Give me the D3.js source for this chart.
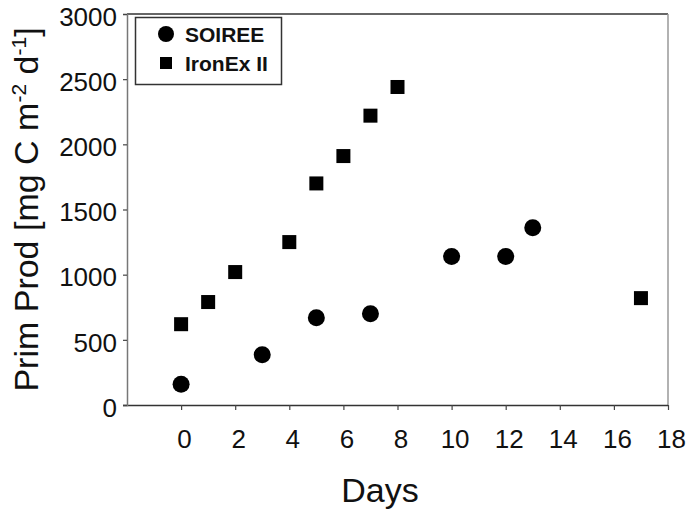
<!DOCTYPE html>
<html>
<head>
<meta charset="utf-8">
<script src="https://cdn.jsdelivr.net/npm/d3@7"></script>
<style>
  body { margin: 0; background: #fff; }
  text { font-family: "Liberation Sans", Arial, Helvetica, sans-serif; fill: #111; }
</style>
</head>
<body>
<svg id="chart"></svg>
<script>
// data
const soireeDays = [0, 3, 5, 7, 10, 12, 13];
const soireeProd = [160, 385, 670, 700, 1140, 1140, 1360];
const ironexDays = [0, 1, 2, 4, 5, 6, 7, 8, 17];
const ironexProd = [620, 790, 1020, 1250, 1700, 1910, 2220, 2440, 820];
const xTicks = [0, 2, 4, 6, 8, 10, 12, 14, 16, 18];
const yTicks = [0, 500, 1000, 1500, 2000, 2500, 3000];

const width = 689;
const height = 513;
const margin = { top: 14, right: 21, bottom: 108, left: 127 };

const svg = d3.select('#chart')
  .attr('width', width)
  .attr('height', height);

const xscale = d3.scaleLinear().domain([-2, 18]).range([margin.left, width - margin.right]);
const yscale = d3.scaleLinear().domain([0, 3000]).range([height - margin.bottom, margin.top]);

// frame (top and right)
svg.append('line')
  .attr('x1', margin.left).attr('x2', width - margin.right)
  .attr('y1', margin.top).attr('y2', margin.top)
  .attr('stroke', '#333').attr('stroke-width', 1.5);
svg.append('line')
  .attr('x1', width - margin.right).attr('x2', width - margin.right)
  .attr('y1', margin.top).attr('y2', height - margin.bottom)
  .attr('stroke', '#999').attr('stroke-width', 1.5);

// axes
const xaxis = d3.axisBottom(xscale).tickValues(xTicks).tickSize(5).tickPadding(20).tickFormat(d3.format('d'));
const g_xaxis = svg.append('g')
  .attr('transform', `translate(0,${height - margin.bottom})`)
  .call(xaxis);
g_xaxis.select('.domain').attr('d', `M${margin.left - 4},0.5H${width - margin.right}`).attr('stroke', '#333').attr('stroke-width', 1.5);
g_xaxis.selectAll('.tick text').attr('dx', 3);

const yaxis = d3.axisLeft(yscale).tickValues(yTicks).tickSize(4).tickPadding(6).tickFormat(d3.format('d'));
const g_yaxis = svg.append('g')
  .attr('transform', `translate(${margin.left},0)`)
  .call(yaxis);
g_yaxis.select('.domain').attr('stroke', '#777').attr('stroke-width', 1.5);
g_yaxis.selectAll('.tick text').attr('y', 3);

svg.selectAll('.tick line').attr('stroke', '#444').attr('stroke-width', 1.2);
svg.selectAll('.tick text').style('font-size', '26px').attr('fill', '#111');

// axis titles
svg.append('text')
  .attr('x', 380)
  .attr('y', 502)
  .attr('text-anchor', 'middle')
  .style('font-size', '34px')
  .text('Days');

const ytitle = svg.append('text')
  .attr('transform', `translate(38,${(yscale(0) + yscale(3000)) / 2}) rotate(-90)`)
  .attr('text-anchor', 'middle')
  .style('font-size', '34px');
ytitle.append('tspan').text('Prim Prod [mg C m');
ytitle.append('tspan').attr('dy', -12).style('font-size', '21px').text('-2');
ytitle.append('tspan').attr('dy', 12).text(' d');
ytitle.append('tspan').attr('dy', -12).style('font-size', '21px').text('-1');
ytitle.append('tspan').attr('dy', 12).text(']');

// points
const soiree = soireeDays.map((d, i) => ({ day: d, prod: soireeProd[i] }));
const ironex = ironexDays.map((d, i) => ({ day: d, prod: ironexProd[i] }));

svg.append('g').selectAll('rect').data(ironex).join('rect')
  .attr('x', (d) => xscale(d.day) - 7)
  .attr('y', (d) => yscale(d.prod) - 7)
  .attr('width', 14)
  .attr('height', 14)
  .attr('fill', '#000');

svg.append('g').selectAll('circle').data(soiree).join('circle')
  .attr('cx', (d) => xscale(d.day))
  .attr('cy', (d) => yscale(d.prod))
  .attr('r', 8.5)
  .attr('fill', '#000');

// legend
const legend = svg.append('g');
legend.append('rect')
  .attr('x', 135.5).attr('y', 17.5)
  .attr('width', 146).attr('height', 67)
  .attr('fill', '#fff').attr('stroke', '#333').attr('stroke-width', 1.5);
legend.append('circle').attr('cx', 166).attr('cy', 34).attr('r', 8).attr('fill', '#000');
legend.append('rect').attr('x', 160).attr('y', 57).attr('width', 12).attr('height', 12).attr('fill', '#000');
legend.append('text').attr('x', 185).attr('y', 42).style('font-size', '21px').style('font-weight', 'bold').text('SOIREE');
legend.append('text').attr('x', 185).attr('y', 71).style('font-size', '21px').style('font-weight', 'bold').text('IronEx II');
</script>
</body>
</html>
